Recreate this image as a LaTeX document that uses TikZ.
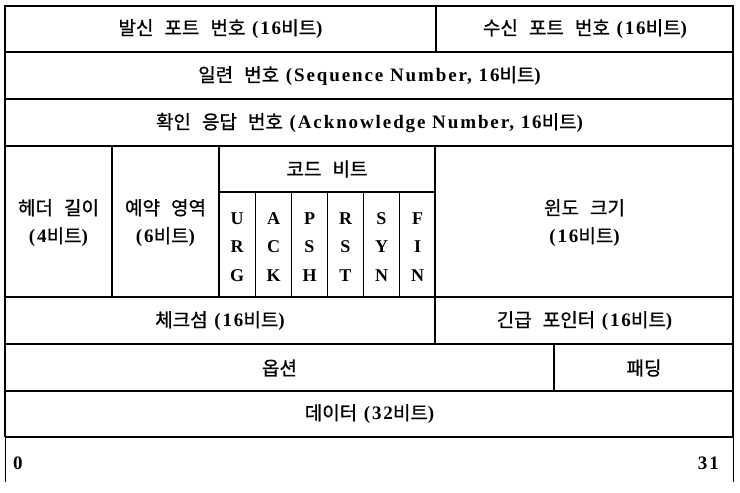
\documentclass[tikz,border=0pt]{standalone}
\usepackage{fontspec}
\setmainfont{Liberation Serif}[LetterSpace=10, UprightFont=* Bold]
\newfontfamily\krfont{Noto Sans CJK KR}[Scale=1.0, WordSpace=2.6, FakeBold=0.8]
\newcommand{\K}[1]{{\krfont #1}}
\begin{document}
\begin{tikzpicture}[x=1pt,y=-1pt,
  thickline/.style={line width=2.6pt},
  cellline/.style={line width=1.3pt},
  thinline/.style={line width=1pt},
  lbl/.style={inner sep=0pt,font=\fontsize{19}{22}\selectfont},
  two/.style={lbl,align=center,font=\fontsize{19}{28}\selectfont},
  bit/.style={inner sep=0pt,align=center,font=\fontsize{18}{28.5}\selectfont}]
\useasboundingbox (0,0) rectangle (740,493);
\fill[white] (0,0) rectangle (740,493);
% horizontal cell lines
\draw[cellline] (5,52) -- (734,52);
\draw[cellline] (5,99) -- (734,99);
\draw[cellline] (5,146) -- (734,146);
\draw[cellline] (219,192) -- (435,192);
\draw[cellline] (5,297) -- (734,297);
\draw[cellline] (5,344) -- (734,344);
\draw[cellline] (5,391) -- (734,391);
% vertical cell lines
\draw[cellline] (436,6) -- (436,52);
\draw[cellline] (112,146) -- (112,297);
\draw[cellline] (219,146) -- (219,297);
\foreach \x in {255.5,291.5,327.5,363.5,399.5}{\draw[cellline] (\x,192) -- (\x,297);}
\draw[cellline] (435,146) -- (435,344);
\draw[cellline] (554,344) -- (554,391);
% outer frame
\draw[thickline] (5,437) -- (5,6) -- (733,6) -- (733,437);
\draw[thickline] (5,437) -- (733,437);
\draw[thinline] (5,437) -- (5,482);
\draw[thinline] (733,437) -- (733,482);
% labels
\node[lbl] (srcport) at (220.5,29) {\K{발신 포트 번호} (16\K{비트})};
\node[lbl] (dstport) at (585,29) {\K{수신 포트 번호} (16\K{비트})};
\node[lbl] (seq) at (369.5,76) {\K{일련 번호} (Sequence Number, 16\K{비트})};
\node[lbl] (ack) at (369.5,123) {\K{확인 응답 번호} (Acknowledge Number, 16\K{비트})};
\node[two] (hlen) at (58.5,223) {\K{헤더 길이}\\(4\K{비트})};
\node[two] (resv) at (165.5,223) {\K{예약 영역}\\(6\K{비트})};
\node[lbl] (code) at (327,169) {\K{코드 비트}};
\node[bit] (urg) at (237,247) {U\\R\\G};
\node[bit] (ackf) at (273.5,247) {A\\C\\K};
\node[bit] (psh) at (309.5,247) {P\\S\\H};
\node[bit] (rst) at (345.5,247) {R\\S\\T};
\node[bit] (syn) at (381.5,247) {S\\Y\\N};
\node[bit] (fin) at (417.5,247) {F\\I\\N};
\node[two] (win) at (584.5,223) {\K{윈도 크기}\\(16\K{비트})};
\node[lbl] (chk) at (220,321) {\K{체크섬} (16\K{비트})};
\node[lbl] (urgp) at (584.5,321) {\K{긴급 포인터} (16\K{비트})};
\node[lbl] (opt) at (279.5,368) {\K{옵션}};
\node[lbl] (pad) at (644,368) {\K{패딩}};
\node[lbl] (data) at (369.5,414) {\K{데이터} (32\K{비트})};
\node[lbl,anchor=west] (b0) at (13,463) {0};
\node[lbl,anchor=east] (b31) at (719,463) {31};
\end{tikzpicture}
\end{document}
